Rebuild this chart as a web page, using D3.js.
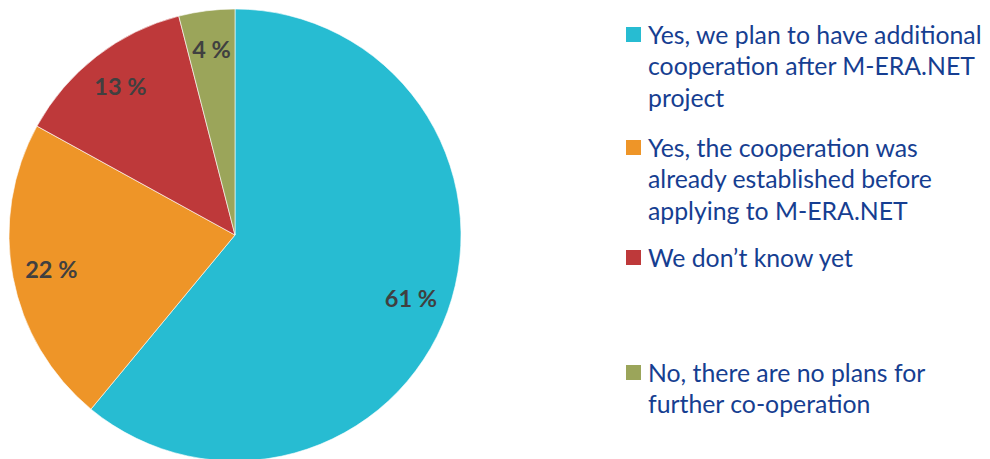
<!DOCTYPE html>
<html><head><meta charset="utf-8">
<script src="https://cdn.jsdelivr.net/npm/d3@7"></script>
<style>body{margin:0;background:#fff;}svg{display:block;}</style>
</head><body>
<svg id="c" width="990" height="459"></svg>
<script>
const categories = [
  "Yes, we plan to have additional cooperation after M-ERA.NET project",
  "Yes, the cooperation was already established before applying to M-ERA.NET",
  "We don\u2019t know yet",
  "No, there are no plans for further co-operation"
];
const legendLines = [
  ["Yes, we plan to have additional", "cooperation after M-ERA.NET", "project"],
  ["Yes, the cooperation was", "already established before", "applying to M-ERA.NET"],
  ["We don\u2019t know yet"],
  ["No, there are no plans for", "further co-operation"]
];
const values = [61, 22, 13, 4];
const labels = ["61 %", "22 %", "13 %", "4 %"];
const colors = ["#27BCD2", "#EE9528", "#BE393A", "#9BA55A"];

const svg = d3.select("#c");
const cx = 235, cy = 235, R = 226;
const pie = d3.pie().sort(null).value(d => d)(values);
const arc = d3.arc().innerRadius(0).outerRadius(R);
const labelArc = d3.arc().innerRadius(187).outerRadius(187);
const g = svg.append("g").attr("transform", `translate(${cx},${cy})`);
g.selectAll("path").data(pie).join("path")
  .attr("d", arc).attr("fill", (d, i) => colors[i])
  .attr("stroke", "#fff").attr("stroke-width", 0.6);
g.selectAll("text").data(pie).join("text")
  .attr("transform", d => `translate(${labelArc.centroid(d)})`)
  .attr("text-anchor", "middle").attr("dy", "0.35em")
  .attr("font-family", "Lato, 'Open Sans', sans-serif").attr("font-weight", "bold")
  .attr("font-size", 23.5).attr("fill", "#404040")
  .text((d, i) => labels[i]);

const legendY = [35, 148, 258, 373];
const lineH = 31.5;
const lg = svg.append("g");
legendLines.forEach((lines, i) => {
  lg.append("rect").attr("x", 626).attr("y", legendY[i] - 8).attr("width", 15).attr("height", 15)
    .attr("fill", colors[i]);
  lines.forEach((t, j) => {
    lg.append("text").attr("x", 648).attr("y", legendY[i] + j * lineH).attr("dy", "0.35em")
      .attr("font-family", "Lato, 'Open Sans', sans-serif").attr("font-size", 24.8)
      .attr("fill", "#163E91").text(t);
  });
});
</script>
</body></html>
